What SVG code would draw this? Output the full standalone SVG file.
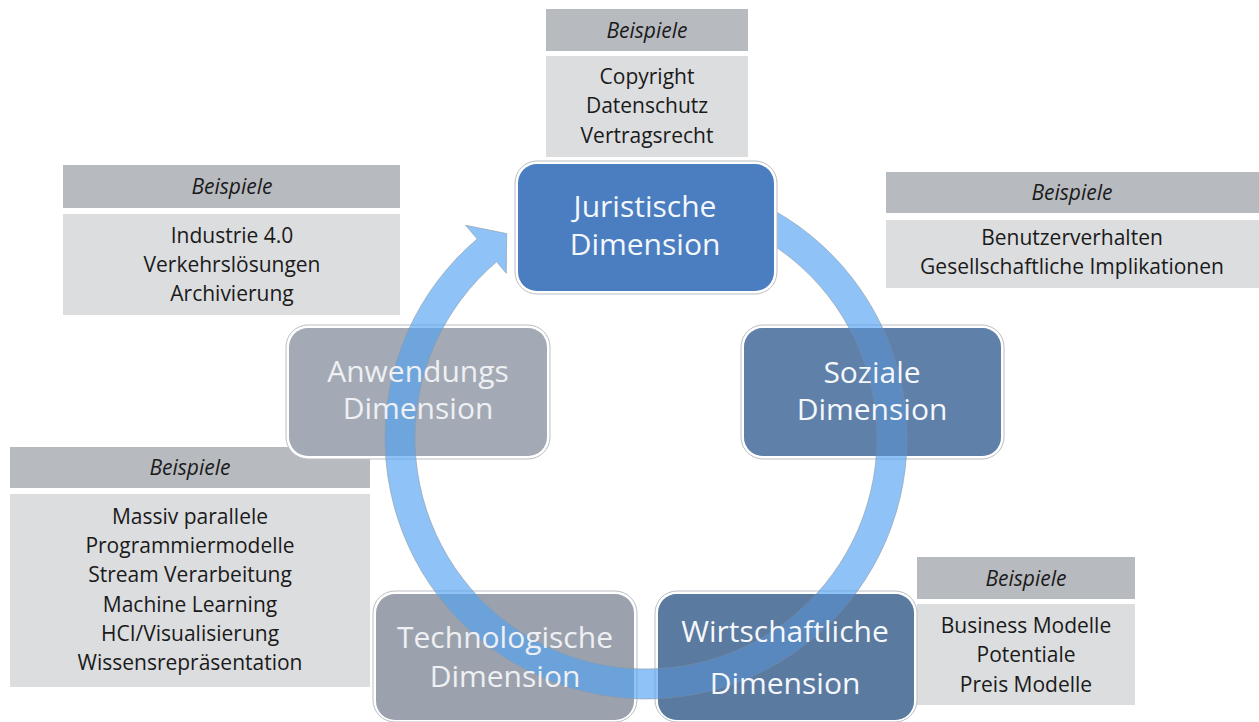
<svg xmlns="http://www.w3.org/2000/svg" width="1259" height="722" viewBox="0 0 1259 722">
<style>
.hd{fill:#b7babf}
.bd{fill:#dcdddf}
.ex{font-family:"Open Sans","Liberation Sans",sans-serif;font-size:21px;fill:#1a1a1a;text-anchor:middle}
.exh{font-style:italic}
.frame{fill:#ffffff;stroke:#b9bdc3;stroke-width:1}
.nt{font-family:"Open Sans","Liberation Sans",sans-serif;font-size:30px;text-anchor:middle}
.wt{fill:#f4f7fb}
.gt{fill:#eef0f3}
</style>
<rect width="1259" height="722" fill="#ffffff"/>

<g id="ex-top">
<rect class="hd" x="546" y="9" width="202" height="42"/>
<rect class="bd" x="546" y="56" width="202" height="101"/>
<text class="ex exh" x="647" y="38">Beispiele</text>
<text class="ex" x="647" y="84">Copyright</text>
<text class="ex" x="647" y="113">Datenschutz</text>
<text class="ex" x="647" y="143">Vertragsrecht</text>
</g>
<g id="ex-lefttop">
<rect class="hd" x="63" y="165" width="337" height="43"/>
<rect class="bd" x="63" y="214" width="337" height="101"/>
<text class="ex exh" x="232" y="194">Beispiele</text>
<text class="ex" x="232" y="243">Industrie 4.0</text>
<text class="ex" x="232" y="272">Verkehrslösungen</text>
<text class="ex" x="232" y="301">Archivierung</text>
</g>
<g id="ex-righttop">
<rect class="hd" x="886" y="172" width="373" height="41"/>
<rect class="bd" x="886" y="220" width="373" height="68"/>
<text class="ex exh" x="1072" y="200">Beispiele</text>
<text class="ex" x="1072" y="245">Benutzerverhalten</text>
<text class="ex" x="1072" y="274">Gesellschaftliche Implikationen</text>
</g>
<g id="ex-leftbottom">
<rect class="hd" x="10" y="447" width="360" height="41"/>
<rect class="bd" x="10" y="494" width="360" height="193"/>
<text class="ex exh" x="190" y="475">Beispiele</text>
<text class="ex" x="190" y="524">Massiv parallele</text>
<text class="ex" x="190" y="553">Programmiermodelle</text>
<text class="ex" x="190" y="582">Stream Verarbeitung</text>
<text class="ex" x="190" y="612">Machine Learning</text>
<text class="ex" x="190" y="641">HCI/Visualisierung</text>
<text class="ex" x="190" y="670">Wissensrepräsentation</text>
</g>
<g id="ex-rightbottom">
<rect class="hd" x="917" y="557" width="218" height="42"/>
<rect class="bd" x="917" y="604" width="218" height="101"/>
<text class="ex exh" x="1026" y="586">Beispiele</text>
<text class="ex" x="1026" y="633">Business Modelle</text>
<text class="ex" x="1026" y="662">Potentiale</text>
<text class="ex" x="1026" y="692">Preis Modelle</text>
</g>

<g id="node-anwendung-shape">
<rect class="frame" x="286" y="325" width="264" height="134" rx="22"/>
<rect x="289" y="328" width="258" height="128" rx="19" fill="#a3aab5"/>
</g>
<g id="node-technologie-shape">
<rect class="frame" x="373" y="591" width="264" height="131" rx="22"/>
<rect x="376" y="594" width="258" height="126" rx="19" fill="#9ba2ad"/>
</g>
<g id="node-sozial-shape">
<rect class="frame" x="741" y="325" width="263" height="134" rx="22"/>
<rect x="744" y="328" width="257" height="128" rx="19" fill="#5f80a9"/>
</g>
<g id="node-wirtschaft-shape">
<rect class="frame" x="655" y="591" width="262" height="131" rx="22"/>
<rect x="658" y="594" width="256" height="126" rx="19" fill="#5c7aa0"/>
</g>

<g id="connectors">
<path d="M691.32,180.96 A261,261 0 1 1 477.19,238.94 L465.54,225.21 L506.7,233.6 L506.3,273.3 L496.59,261.82 A231,231 0 1 0 686.11,210.51 Z" fill="#53a3f3" fill-opacity="0.65" stroke="#8e9aa6" stroke-opacity="0.6" stroke-width="1"/>
</g>

<rect x="744" y="328" width="257" height="128" rx="19" fill="#5f80a9" fill-opacity="0.5"/>
<rect x="658" y="594" width="256" height="126" rx="19" fill="#5c7aa0" fill-opacity="0.45"/>

<g id="node-juristisch">
<rect class="frame" x="515" y="161" width="262" height="133" rx="22"/>
<rect x="518" y="164" width="256" height="127" rx="19" fill="#4a7ec0"/>
<text class="nt wt" x="645" y="217">Juristische</text>
<text class="nt wt" x="645" y="255">Dimension</text>
</g>
<g id="node-sozial">
<text class="nt wt" x="872" y="383">Soziale</text>
<text class="nt wt" x="872" y="420">Dimension</text>
</g>
<g id="node-anwendung">
<text class="nt gt" x="418" y="382">Anwendungs</text>
<text class="nt gt" x="418" y="419">Dimension</text>
</g>
<g id="node-technologie">
<text class="nt gt" x="505" y="648">Technologische</text>
<text class="nt gt" x="505" y="687">Dimension</text>
</g>
<g id="node-wirtschaft">
<text class="nt wt" x="785" y="642">Wirtschaftliche</text>
<text class="nt wt" x="785" y="694">Dimension</text>
</g>
</svg>
